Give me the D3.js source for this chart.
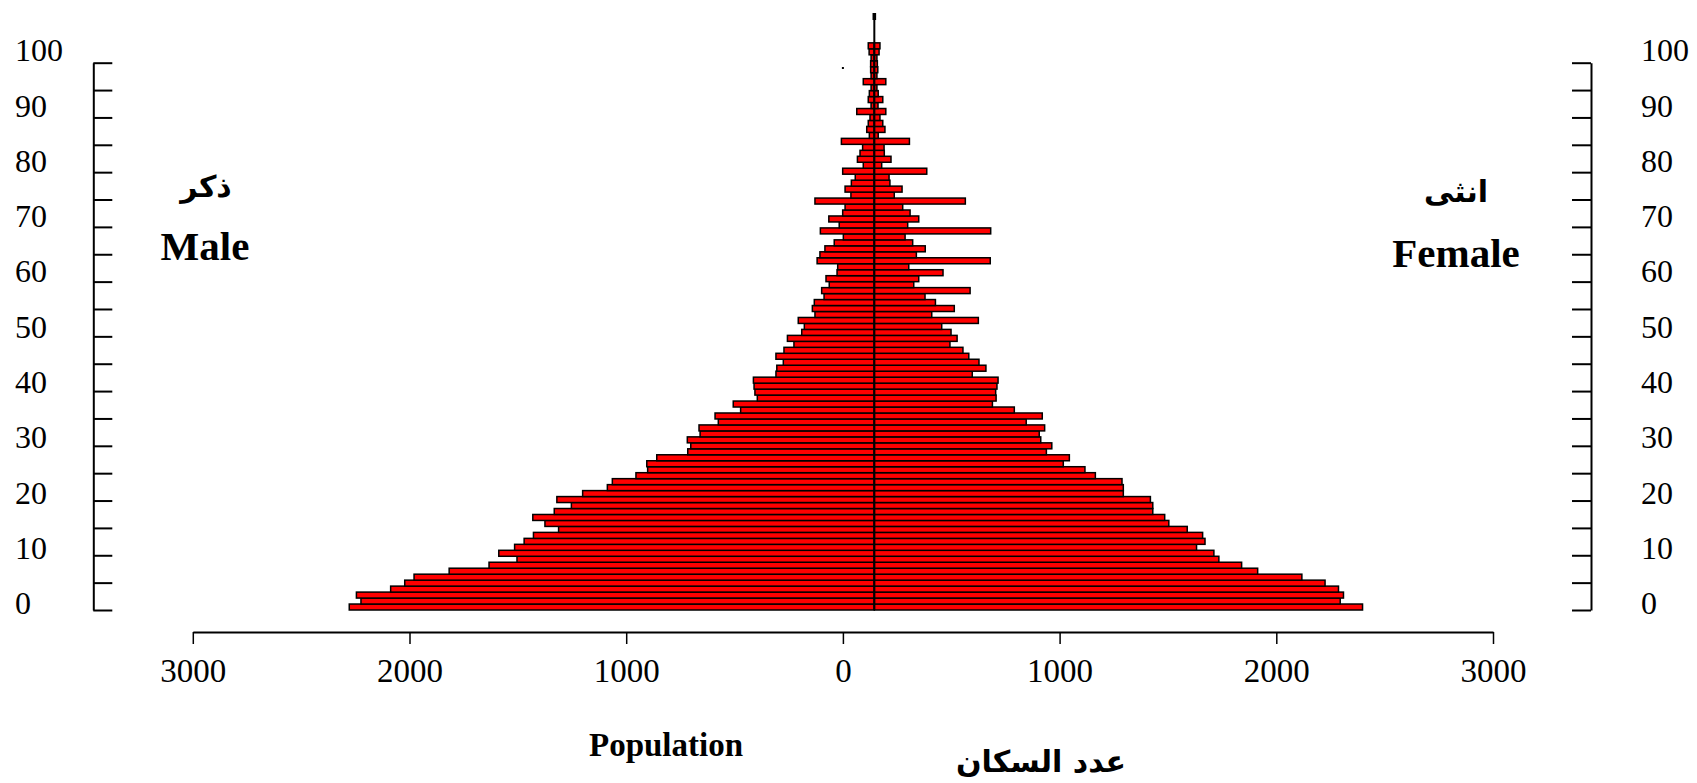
<!DOCTYPE html>
<html lang="en">
<head>
    <meta charset="UTF-8">
    <title>Population pyramid</title>
    <script src="https://unpkg.com/d3@7.8.5/dist/d3.min.js"></script>
    <style>
        body { margin: 0; background: #fff; }
        svg { display: block; }
    </style>
</head>
<body>
    <svg width="1697" height="783"></svg>
    <script>
        // one bar per row, bottom row first
        var rows = d3.range(0, 95)

        var male = [2423, 2369, 2390, 2232, 2167, 2124, 1962, 1778, 1649, 1733,
            1660, 1616, 1573, 1457, 1520, 1576, 1477, 1398, 1465, 1346,
            1232, 1209, 1100, 1046, 1050, 1004, 861, 847, 863, 804,
            809, 720, 735, 617, 651, 540, 551, 555, 558, 454,
            450, 420, 454, 417, 371, 401, 335, 323, 351, 274,
            286, 277, 232, 243, 208, 223, 172, 169, 264, 251,
            228, 185, 143, 249, 162, 210, 146, 135, 274, 108,
            135, 106, 88, 146, 51, 78, 66, 54, 152, 23,
            35, 28, 20, 81, 15, 28, 23, 15, 51, 15,
            17, 17, 15, 24, 28]

        var female = [2253, 2150, 2165, 2142, 2080, 1973, 1769, 1695, 1590, 1567,
            1487, 1526, 1515, 1444, 1359, 1340, 1285, 1285, 1274, 1149,
            1149, 1143, 1020, 972, 872, 900, 794, 819, 768, 761,
            786, 701, 775, 646, 545, 562, 560, 566, 571, 452,
            515, 483, 436, 409, 349, 382, 354, 311, 480, 265,
            369, 282, 234, 442, 182, 205, 317, 159, 535, 194,
            235, 177, 142, 537, 154, 205, 165, 131, 420, 92,
            128, 72, 68, 242, 34, 77, 46, 45, 162, 18,
            49, 39, 26, 53, 17, 39, 18, 12, 53, 12,
            16, 14, 12, 22, 26]

        // the middle line of the pyramid sits a bit right of the axis zero
        var centre = 145

        var popTicks = [-3000, -2000, -1000, 0, 1000, 2000, 3000]
        var ageTicks = d3.range(0, 101, 5)
        var ageLabels = d3.range(0, 101, 10)

        var svg = d3.select('svg')

        var x = d3.scaleLinear().domain([-3000, 3000]).range([192.8, 1493])
        var yAge = d3.scaleLinear().domain([0, 100]).range([610, 62.7])
        var yLab = d3.scaleLinear().domain([0, 100]).range([603, 50])
        var yBar = d3.scaleBand().domain(rows).range([610, 610 - rows.length * 5.97])

        var serif = '"Times New Roman", "Liberation Serif", serif'
        var arabic = '"DejaVu Sans", sans-serif'

        // bars
        var bars = svg.append('g')
            .attr('fill', '#ff0000')
            .attr('stroke', '#000')
            .attr('stroke-width', 1.5)

        bars.selectAll('rect.m').data(rows).enter()
            .append('rect')
            .attr('class', 'm')
            .attr('x', i => x(centre - male[i]))
            .attr('y', i => yBar(i))
            .attr('width', i => x(centre) - x(centre - male[i]))
            .attr('height', yBar.bandwidth())

        bars.selectAll('rect.f').data(rows).enter()
            .append('rect')
            .attr('class', 'f')
            .attr('x', x(centre))
            .attr('y', i => yBar(i))
            .attr('width', i => x(centre + female[i]) - x(centre))
            .attr('height', yBar.bandwidth())

        // centre line, with its small thick cap at the top
        svg.append('line')
            .attr('x1', x(centre)).attr('x2', x(centre))
            .attr('y1', 13).attr('y2', yAge(0))
            .attr('stroke', '#000').attr('stroke-width', 2)
        svg.append('rect')
            .attr('x', x(centre) - 1.8).attr('y', 13).attr('width', 3.6).attr('height', 7)
            .attr('fill', '#000')

        // stray dot
        svg.append('rect')
            .attr('x', x(0) - 1).attr('y', 67).attr('width', 2).attr('height', 2)
            .attr('fill', '#000')

        // left age axis
        svg.append('g')
            .attr('transform', 'translate(93.3,0)')
            .call(d3.axisRight(yAge).tickValues(ageTicks).tickSize(19).tickSizeOuter(0).tickFormat(''))
        // right age axis
        svg.append('g')
            .attr('transform', 'translate(1591,0)')
            .call(d3.axisLeft(yAge).tickValues(ageTicks).tickSize(19).tickSizeOuter(0).tickFormat(''))

        svg.selectAll('.domain, .tick line').attr('stroke', '#000').attr('stroke-width', 2)

        svg.append('g').selectAll('text').data(ageLabels).enter()
            .append('text')
            .attr('x', 15)
            .attr('y', d => yLab(d))
            .attr('dy', '0.35em')
            .attr('font-family', serif)
            .attr('font-size', 32)
            .text(d => d)

        svg.append('g').selectAll('text').data(ageLabels).enter()
            .append('text')
            .attr('x', 1641)
            .attr('y', d => yLab(d))
            .attr('dy', '0.35em')
            .attr('font-family', serif)
            .attr('font-size', 32)
            .text(d => d)

        // population axis
        var bottom = svg.append('g')
            .attr('transform', 'translate(0,632)')
            .call(d3.axisBottom(x).tickValues(popTicks).tickSize(12).tickSizeOuter(0).tickFormat(d => Math.abs(d)))
        bottom.select('.domain').attr('stroke', '#000').attr('stroke-width', 2)
        bottom.selectAll('.tick line').attr('stroke', '#000').attr('stroke-width', 1.5)
        bottom.selectAll('.tick text')
            .attr('y', 50).attr('dy', 0)
            .attr('fill', '#000')
            .attr('font-family', serif)
            .attr('font-size', 33)

        // titles
        function label(txt, cx, cy, size, font) {
            svg.append('text')
                .attr('x', cx).attr('y', cy)
                .attr('text-anchor', 'middle')
                .attr('font-family', font)
                .attr('font-weight', 'bold')
                .attr('font-size', size)
                .text(txt)
        }
        label('ذكر', 206, 197, 30, arabic)
        label('Male', 205, 260, 41, serif)
        label('انثى', 1456, 202, 30, arabic)
        label('Female', 1456, 267, 41, serif)
        label('Population', 666, 756, 33, serif)
        label('عدد السكان', 1041, 772, 30, arabic)
    </script>
</body>
</html>
